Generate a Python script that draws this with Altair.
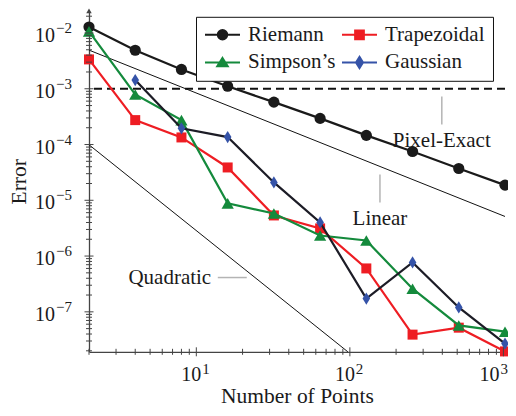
import altair as alt
import pandas as pd
import numpy as np

# ---------------- data ----------------
points = [2, 4, 8, 16, 32, 64, 128, 256, 512, 1024]
riemann = [1.28e-2, 4.9e-3, 2.22e-3, 1.11e-3, 5.75e-4, 2.94e-4, 1.46e-4, 7.5e-5, 3.72e-5, 1.87e-5]
trapezoidal = [3.36e-3, 2.74e-4, 1.34e-4, 3.88e-5, 5.35e-6, 3.13e-6, 6.0e-7, 3.9e-8, 5.2e-8, 1.95e-8]
simpsons = [1.07e-2, 7.9e-4, 2.74e-4, 8.8e-6, 5.8e-6, 2.34e-6, 1.9e-6, 2.6e-7, 5.7e-8, 4.4e-8]
gaussian = [None, 1.43e-3, 1.95e-4, 1.36e-4, 2.09e-5, 4.0e-6, 1.73e-7, 7.7e-7, 1.2e-7, 2.7e-8]

series_names = ["Riemann", "Trapezoidal", "Simpson’s", "Gaussian"]
series_values = [riemann, trapezoidal, simpsons, gaussian]

linear_x = [2, 1024]
linear_y = [4.93e-3, 5.13e-6]
quadratic_x = [2, 97]
quadratic_y = [9.9e-5, 1.92e-8]
pixel_exact_y = [1e-3]

annot_labels = ["Pixel-Exact", "Linear", "Quadratic"]
annot_x = [397, 157, 6.72]
annot_y = [1.15e-4, 4.53e-6, 4.12e-7]
pin_x = [397, 157, 13.8]
pin_x2 = [397, 157, 21.3]
pin_y = [7.3e-4, 2.9e-5, 4.12e-7]
pin_y2 = [2.29e-4, 9.1e-6, 4.12e-7]

x_domain = [2, 1024]
y_domain = [1.92e-8, 2.5e-2]
x_major = [10, 100, 1000]
x_major_exp = ["1", "2", "3"]
y_major = [1e-7, 1e-6, 1e-5, 1e-4, 1e-3, 1e-2]
y_major_exp = ["−7", "−6", "−5", "−4", "−3", "−2"]

# ---------------- styles ----------------
W, H = 416, 341
FONT = "Liberation Serif, DejaVu Serif, Times New Roman, serif"
TXT = "#1a1a1a"
AX = "#444444"
line_colors = ["#1a1a1a", "#ee1d23", "#148a3c", "#1c1c26"]
marker_colors = ["#1a1a1a", "#ee1d23", "#148a3c", "#3553a8"]
legend_colors = ["#1a1a1a", "#ee1d23", "#148a3c", "#3553a8"]
diamond = "M0,-1L0.62,0L0,1L-0.62,0Z"
marker_shapes = ["circle", "square", "triangle-up", diamond]
marker_sizes = [125, 100, 150, 150]
legend_paths = [
    "M-1,0L1,0M-0.27,0A0.27,0.27,0,1,0,0.27,0A0.27,0.27,0,1,0,-0.27,0Z",
    "M-1,0L1,0M-0.25,-0.25L0.25,-0.25L0.25,0.25L-0.25,0.25Z",
    "M-1,0L1,0M0,-0.26L0.3,0.22L-0.3,0.22Z",
    "M-1,0L1,0M0,-0.32L0.2,0L0,0.32L-0.2,0Z",
]

xs = alt.Scale(type="log", domain=x_domain, nice=False)
ys = alt.Scale(type="log", domain=y_domain, nice=False)

rows = []
for name, vals in zip(series_names, series_values):
    for n, v in zip(points, vals):
        if v is not None:
            rows.append({"series": name, "n": n, "err": v})
df = pd.DataFrame(rows)

x_axis = alt.Axis(title="Number of Points", labels=False, ticks=False, grid=False,
                  domainColor=AX, domainWidth=1.3, titleFont=FONT, titleFontSize=21.5,
                  titleFontWeight="normal", titleColor=TXT, titlePadding=34)
y_axis = alt.Axis(title="Error", labels=False, ticks=False, grid=False,
                  domainColor=AX, domainWidth=1.3, titleFont=FONT, titleFontSize=21.5,
                  titleFontWeight="normal", titleColor=TXT, titlePadding=59)


def X(field):
    return alt.X(field, scale=xs, axis=x_axis)


def Y(field):
    return alt.Y(field, scale=ys, axis=y_axis)


layers = []

# reference lines
ref_df = pd.DataFrame({"n": linear_x + quadratic_x, "err": linear_y + quadratic_y,
                       "kind": ["lin", "lin", "quad", "quad"]})
layers.append(alt.Chart(ref_df).mark_line(color="#111111", strokeWidth=1).encode(
    x=X("n:Q"), y=Y("err:Q"), detail="kind:N"))

# pixel exact dashed
layers.append(alt.Chart(pd.DataFrame({"err": pixel_exact_y})).mark_rule(
    color="#111111", strokeWidth=2, strokeDash=[8, 5]).encode(y=Y("err:Q")))

# pins
pin_df = pd.DataFrame({"x": pin_x, "x2": pin_x2, "y": pin_y, "y2": pin_y2})
layers.append(alt.Chart(pin_df).mark_rule(color="#b4b4b4", strokeWidth=1.5).encode(
    x=X("x:Q"), x2="x2:Q", y=Y("y:Q"), y2="y2:Q"))

# annotation text
ann_df = pd.DataFrame({"label": annot_labels, "x": annot_x, "y": annot_y})
layers.append(alt.Chart(ann_df).mark_text(font=FONT, fontSize=21, color=TXT,
                                          align="center", baseline="middle").encode(
    x=X("x:Q"), y=Y("y:Q"), text="label:N"))

# series
for i, name in enumerate(series_names):
    base = alt.Chart(df).transform_filter(alt.FieldEqualPredicate(field="series", equal=name))
    layers.append(base.mark_line(color=line_colors[i], strokeWidth=2.2).encode(
        x=X("n:Q"), y=Y("err:Q")))
    layers.append(base.mark_point(filled=True, opacity=1, shape=marker_shapes[i],
                                  size=marker_sizes[i], color=marker_colors[i]).encode(
        x=X("n:Q"), y=Y("err:Q")))

# ticks
x_all = [m * 10 ** e for e in range(0, 4) for m in range(1, 10)]
x_all = [v for v in x_all if x_domain[0] <= v <= x_domain[1]]
y_all = [m * 10.0 ** e for e in range(-8, -1) for m in range(1, 10)]
y_all = [v for v in y_all if y_domain[0] <= v <= y_domain[1]]
x_minor = pd.DataFrame({"v": [v for v in x_all if v not in x_major]})
y_minor = pd.DataFrame({"v": [v for v in y_all if not any(abs(v / m - 1) < 1e-9 for m in y_major)]})
xmaj_df = pd.DataFrame({"v": x_major, "e": x_major_exp})
ymaj_df = pd.DataFrame({"v": y_major, "e": y_major_exp})

layers.append(alt.Chart(x_minor).mark_rule(color=AX, strokeWidth=1).encode(
    x=X("v:Q"), y=alt.value(H - 3), y2=alt.value(H + 3)))
layers.append(alt.Chart(xmaj_df).mark_rule(color=AX, strokeWidth=1).encode(
    x=X("v:Q"), y=alt.value(H - 4.5), y2=alt.value(H + 4.5)))
layers.append(alt.Chart(y_minor).mark_rule(color=AX, strokeWidth=1).encode(
    y=Y("v:Q"), x=alt.value(-3), x2=alt.value(3)))
layers.append(alt.Chart(ymaj_df).mark_rule(color=AX, strokeWidth=1).encode(
    y=Y("v:Q"), x=alt.value(-4.5), x2=alt.value(4.5)))

# x tick labels ("10" + superscript exponent); the last one is pulled in to stay on the page
for v, e in zip(x_major, x_major_exp):
    shift = 5 if v < 1000 else -4
    lab_df = pd.DataFrame({"v": [v], "e": [e]})
    layers.append(alt.Chart(lab_df).mark_text(font=FONT, fontSize=20, color=TXT, align="right",
                                              baseline="middle", dx=shift, dy=23).encode(
        x=X("v:Q"), y=alt.value(H), text=alt.value("10")))
    layers.append(alt.Chart(lab_df).mark_text(font=FONT, fontSize=15, color=TXT, align="left",
                                              baseline="middle", dx=shift + 1, dy=17).encode(
        x=X("v:Q"), y=alt.value(H), text="e:N"))

# y tick labels
layers.append(alt.Chart(ymaj_df).mark_text(font=FONT, fontSize=20, color=TXT, align="right",
                                           baseline="middle", dy=3).encode(
    y=Y("v:Q"), x=alt.value(-34), text=alt.value("10")))
layers.append(alt.Chart(ymaj_df).mark_text(font=FONT, fontSize=15, color=TXT, align="left",
                                           baseline="middle", dy=-5).encode(
    y=Y("v:Q"), x=alt.value(-33), text="e:N"))

# arrow head on y axis
layers.append(alt.Chart(pd.DataFrame({"x": [x_domain[0]], "y": [y_domain[1]]})).mark_point(
    shape="triangle-up", size=30, filled=True, opacity=1, color=AX).encode(
    x=X("x:Q"), y=Y("y:Q")))

# legend (built by the library from fill/stroke/shape scales)
leg = alt.Legend(title=None, orient="none", legendX=107, legendY=6, columns=2,
                 direction="horizontal", clipHeight=20,
                 labelFont=FONT, labelFontSize=21, labelColor=TXT, labelOffset=7,
                 symbolSize=1225, symbolStrokeWidth=2, symbolOpacity=1,
                 strokeColor="#111111", fillColor="white", padding=8,
                 columnPadding=5, rowPadding=6.7)
layers.append(alt.Chart(df).transform_filter(
    alt.FieldEqualPredicate(field="series", equal="__none__")).mark_point(
    filled=True, opacity=1, strokeWidth=2).encode(
    x=X("n:Q"), y=Y("err:Q"),
    fill=alt.Fill("series:N", scale=alt.Scale(domain=series_names, range=legend_colors), legend=leg),
    stroke=alt.Stroke("series:N", scale=alt.Scale(domain=series_names, range=legend_colors), legend=leg),
    shape=alt.Shape("series:N", scale=alt.Scale(domain=series_names, range=legend_paths), legend=leg)))

chart = alt.layer(*layers).properties(
    width=W, height=H,
    autosize=alt.AutoSizeParams(type="none"),
    padding={"left": 81, "top": 2.8, "right": 3, "bottom": 56},
).configure_view(stroke=None)

chart.save("out.html", embed_options={"renderer": "svg", "actions": False})
